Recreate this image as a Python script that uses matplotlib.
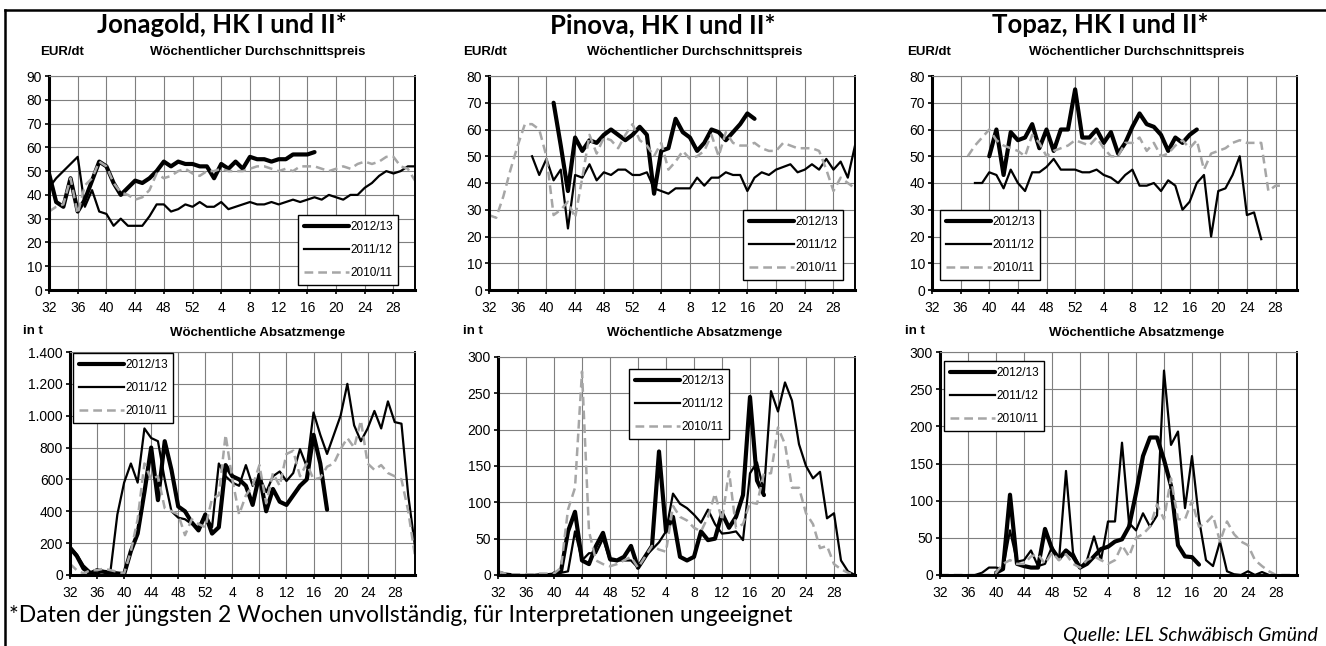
import numpy as np
import matplotlib
matplotlib.use('Agg')
import matplotlib.pyplot as plt
from matplotlib.lines import Line2D

W, H = 1326, 646

# ---- data -------------------------------------------------------------
weeks = list(range(32, 53)) + list(range(1, 32))
tick_weeks = [32, 36, 40, 44, 48, 52, 4, 8, 12, 16, 20, 24, 28]
seasons = ['2012/13', '2011/12', '2010/11']

# Jonagold, price EUR/dt
jona_p_1213 = [49, 37, 35, 47, 33, 38, 46, 54, 52, 45, 40, 43, 46, 45, 47, 50, 54, 52, 54, 53,
               53, 52, 52, 47, 53, 51, 54, 51, 56, 55, 55, 54, 55, 55, 57, 57, 57, 58] + [None] * 14
jona_p_1112 = [43, 47, 50, 53, 56, 35, 42, 33, 32, 27, 30, 27, 27, 27, 31, 36, 36, 33, 34, 36,
               35, 37, 35, 35, 37, 34, 35, 36, 37, 36, 36, 37, 36, 37, 38, 37, 38, 39, 38, 40,
               39, 38, 40, 40, 43, 45, 48, 50, 49, 50, 52, 52]
jona_p_1011 = [33, 35, 36, 47, 32, 44, 47, 54, 52, 45, 41, 40, 38, 39, 42, 49, 47, 48, 50, 51,
               49, 48, 50, 50, 51, 50, 50, 50, 51, 52, 52, 51, 50, 51, 50, 52, 52, 52, 51, 50,
               51, 52, 51, 53, 54, 53, 54, 56, 56, 52, 51, 46]

# Jonagold, volume t
jona_v_1213 = [170, 120, 40, 10, 30, 20, 15, 10, 5, 150, 260, 520, 800, 470, 840, 660, 430, 400,
               330, 280, 380, 260, 300, 690, 620, 600, 560, 440, 630, 400, 540, 460, 440, 500,
               560, 600, 880, 700, 410] + [None] * 13
jona_v_1112 = [180, 130, 60, 20, 10, 20, 30, 380, 580, 700, 580, 920, 860, 840, 600, 400, 360,
               350, 320, 300, 380, 300, 700, 620, 580, 560, 690, 560, 620, 520, 620, 650, 590,
               640, 790, 680, 1020, 880, 760, 880, 1000, 1200, 940, 840, 920, 1030, 920, 1090,
               960, 950, 500, 180]
jona_v_1011 = [70, 30, 10, 30, 30, 40, 30, 20, 10, 150, 350, 700, 600, 620, 420, 400, 380, 250,
               350, 320, 300, 480, 500, 880, 600, 380, 500, 560, 690, 450, 640, 560, 760, 780,
               620, 700, 600, 610, 680, 700, 790, 860, 800, 970, 700, 660, 690, 640, 620, 600,
               400, 120]

# Pinova, price EUR/dt
pin_p_1213 = [None] * 9 + [70, 54, 37, 57, 52, 56, 55, 58, 60, 58, 56, 58, 61, 58, 36, 52, 53,
                           64, 59, 57, 52, 55, 60, 59, 56, 59, 62, 66, 64] + [None] * 14
pin_p_1112 = [None] * 6 + [50, 43, 49, 41, 45, 23, 43, 42, 47, 41, 44, 43, 45, 45, 43, 43, 44,
                           38, 37, 36, 38, 38, 38, 42, 39, 42, 42, 44, 43, 43, 37, 42, 44, 43,
                           45, 46, 47, 44, 45, 47, 45, 49, 45, 48, 42, 54]
pin_p_1011 = [28, 27, 35, 45, 54, 62, 62, 60, 50, 28, 30, 33, 27, 42, 58, 51, 57, 56, 53, 58,
              62, 56, 54, 50, 55, 45, 48, 52, 49, 50, 52, 58, 50, 59, 55, 54, 54, 55, 53, 52,
              52, 55, 54, 53, 53, 53, 52, 45, 37, 42, 40, 38]

# Pinova, volume t
pin_v_1213 = [None] * 8 + [2, 5, 60, 87, 20, 15, 40, 58, 22, 20, 25, 40, 10, 25, 40, 170, 60, 80,
                           25, 20, 25, 60, 48, 50, 85, 65, 80, 110, 245, 130, 110] + [None] * 13
pin_v_1112 = [5, 2, 1, 0, 0, 0, 1, 1, 2, 3, 5, 60, 20, 30, 30, 50, 20, 20, 20, 20, 10, 25, 35,
              45, 60, 112, 98, 92, 83, 72, 90, 70, 57, 58, 60, 48, 140, 155, 115, 253, 225, 265,
              240, 180, 150, 133, 142, 78, 85, 20, 5, 0]
pin_v_1011 = [5, 2, 1, 1, 1, 1, 2, 2, 2, 10, 90, 120, 280, 60, 20, 15, 12, 15, 20, 25, 10, 25, 40,
              35, 32, 95, 80, 75, 65, 60, 80, 112, 75, 143, 65, 70, 100, 98, 140, 140, 203, 180,
              120, 120, 85, 70, 37, 40, 15, 8, 3, 0]

# Topaz, price EUR/dt
top_p_1213 = [None] * 8 + [50, 60, 43, 59, 56, 57, 62, 53, 60, 52, 60, 60, 75, 57, 57, 60, 55,
                           59, 51, 55, 61, 66, 62, 61, 58, 52, 57, 55, 58, 60] + [None] * 14
top_p_1112 = [None] * 6 + [40, 40, 44, 43, 38, 45, 40, 37, 44, 44, 46, 49, 45, 45, 45, 44, 44,
                           45, 43, 42, 40, 43, 45, 39, 39, 40, 37, 41, 39, 30, 33, 40, 43, 20,
                           37, 38, 43, 50, 28, 29, 19] + [None] * 5
top_p_1011 = [None] * 5 + [50, 54, 57, 60, 56, 54, 53, 52, 50, 58, 55, 50, 52, 53, 54, 56, 55,
                           54, 57, 53, 50, 50, 55, 55, 57, 52, 55, 50, 51, 54, 56, 53, 56, 45,
                           51, 52, 53, 55, 56, 55, 55, 55, 37, 39, 39] + [None] * 2

# Topaz, volume t
top_v_1213 = [None] * 8 + [3, 8, 108, 15, 12, 10, 10, 62, 35, 22, 33, 25, 10, 15, 25, 35, 38,
                           45, 48, 65, 110, 160, 185, 185, 155, 120, 40, 25, 24, 14] + [None] * 14
top_v_1112 = [None] * 5 + [0, 3, 10, 10, 8, 60, 18, 20, 33, 12, 15, 38, 20, 140, 30, 10, 20, 52,
                           20, 72, 72, 178, 70, 60, 83, 65, 80, 275, 175, 193, 90, 160, 75, 20,
                           12, 45, 5, 1, 0, 5, 0, 4, 0] + [None] * 4
top_v_1011 = [0, 0, 0, 0, 0, 0, 0, 0, 3, 15, 20, 15, 15, 25, 28, 15, 30, 20, 28, 15, 10, 20, 25,
              20, 15, 20, 40, 25, 50, 55, 65, 95, 75, 130, 75, 75, 100, 65, 70, 80, 45, 72, 55,
              45, 40, 20, 12, 5, 0, 0, 0, 0]

titles = ['Jonagold, HK I und II*', 'Pinova, HK I und II*', 'Topaz, HK I und II*']
price_ticks = [[0, 10, 20, 30, 40, 50, 60, 70, 80, 90],
               [0, 10, 20, 30, 40, 50, 60, 70, 80],
               [0, 10, 20, 30, 40, 50, 60, 70, 80]]
vol_ticks = [[0, 200, 400, 600, 800, 1000, 1200, 1400],
             [0, 50, 100, 150, 200, 250, 300],
             [0, 50, 100, 150, 200, 250, 300]]

# ---- style ------------------------------------------------------------
AX_FONT = 'Liberation Sans'
TITLE_FONT = 'Lato'
styles = [dict(color='black', lw=3.0, solid_capstyle='round'),
          dict(color='black', lw=1.6),
          dict(color='#a6a6a6', lw=1.8, ls=(0, (3.5, 2)))]


def fig_rect(x0, y0, x1, y1):
    return [x0 / W, 1 - y1 / H, (x1 - x0) / W, (y1 - y0) / H]


def de_num(v):
    return '{:,}'.format(v).replace(',', '.')


def draw_panel(fig, rect, series, yticks, legend_xy):
    ax = fig.add_axes(rect)
    x = np.arange(len(weeks))
    for data, st in zip(series, styles):
        y = np.array([np.nan if v is None else v for v in data], dtype=float)
        ax.plot(x, y, solid_joinstyle='round', dash_joinstyle='round', **st)
    ax.set_xlim(0, len(weeks) - 1)
    ax.set_ylim(yticks[0], yticks[-1])
    ax.set_xticks([weeks.index(w) for w in tick_weeks])
    ax.set_xticklabels([str(w) for w in tick_weeks], fontfamily=AX_FONT, fontsize=10)
    ax.set_yticks(yticks)
    ax.set_yticklabels([de_num(v) for v in yticks], fontfamily=AX_FONT, fontsize=10)
    ax.grid(True, color='#7f7f7f', lw=0.8)
    ax.set_axisbelow(True)
    for side in ['left', 'bottom']:
        ax.spines[side].set_linewidth(2.2)
        ax.spines[side].set_color('black')
    ax.spines['right'].set_linewidth(1.4)
    ax.spines['top'].set_linewidth(0.8)
    ax.spines['top'].set_color('#7f7f7f')
    ax.tick_params(direction='out', length=3, width=1.2, pad=2, colors='black')
    ax.tick_params(axis='x', pad=5)
    handles = [Line2D([], [], **st) for st in styles]
    leg = ax.legend(handles, seasons, loc='upper left',
                    bbox_to_anchor=(legend_xy[0] / W, 1 - legend_xy[1] / H),
                    bbox_transform=fig.transFigure, borderaxespad=0,
                    fancybox=False, framealpha=1, edgecolor='black',
                    handlelength=3.8, handletextpad=0.1, labelspacing=0.95,
                    borderpad=0.5, prop={'family': AX_FONT, 'size': 8.5})
    leg.get_frame().set_linewidth(1.0)
    return ax


fig = plt.figure(figsize=(W / 100, H / 100), dpi=100)

# outer frame lines
fig.add_artist(Line2D([5 / W, 1], [1 - 10 / H, 1 - 10 / H], color='black', lw=1.8))
fig.add_artist(Line2D([5 / W, 5 / W], [0, 1 - 10 / H], color='black', lw=1.8))

panel_x = [(49, 70, 415), (489, 498, 855), (932, 940, 1297)]
title_x = [222, 663, 1100]
sub_x = [258, 695, 1137]
unit_x = [40, 463, 907]
unit2_x = [23, 463, 905]
leg_top = [(298, 215), (743, 210), (940, 210)]
leg_bot = [(73, 353), (629, 369), (944, 361)]
price = [[jona_p_1213, jona_p_1112, jona_p_1011],
         [pin_p_1213, pin_p_1112, pin_p_1011],
         [top_p_1213, top_p_1112, top_p_1011]]
volume = [[jona_v_1213, jona_v_1112, jona_v_1011],
          [pin_v_1213, pin_v_1112, pin_v_1011],
          [top_v_1213, top_v_1112, top_v_1011]]
vol_top = [352, 357, 352]

for i in range(3):
    xt, xb, xr = panel_x[i]
    draw_panel(fig, fig_rect(xt, 76, xr, 290), price[i], price_ticks[i], leg_top[i])
    draw_panel(fig, fig_rect(xb, vol_top[i], xr, 575), volume[i], vol_ticks[i], leg_bot[i])
    fig.text(title_x[i] / W, 1 - 25 / H, titles[i], ha='center', va='center',
             fontfamily=TITLE_FONT, fontweight='bold', fontsize=18.5)
    fig.text(unit_x[i] / W, 1 - 52 / H, 'EUR/dt', ha='left', va='center',
             fontfamily=AX_FONT, fontweight='bold', fontsize=9.5)
    fig.text(sub_x[i] / W, 1 - 52 / H, 'Wöchentlicher Durchschnittspreis', ha='center',
             va='center', fontfamily=AX_FONT, fontweight='bold', fontsize=9.5)
    fig.text(unit2_x[i] / W, 1 - 331 / H, 'in t', ha='left', va='center',
             fontfamily=AX_FONT, fontweight='bold', fontsize=9.5)
    fig.text(sub_x[i] / W, 1 - 333 / H, 'Wöchentliche Absatzmenge', ha='center',
             va='center', fontfamily=AX_FONT, fontweight='bold', fontsize=9.5)

fig.text(9 / W, 1 - 616 / H,
         '*Daten der jüngsten 2 Wochen unvollständig, für Interpretationen ungeeignet',
         ha='left', va='center', fontfamily=TITLE_FONT, fontsize=16.5)
fig.text(1318 / W, 1 - 635 / H, 'Quelle: LEL Schwäbisch Gmünd', ha='right', va='center',
         fontfamily=TITLE_FONT, fontstyle='italic', fontsize=14)

fig.savefig('out.png', dpi=100)
